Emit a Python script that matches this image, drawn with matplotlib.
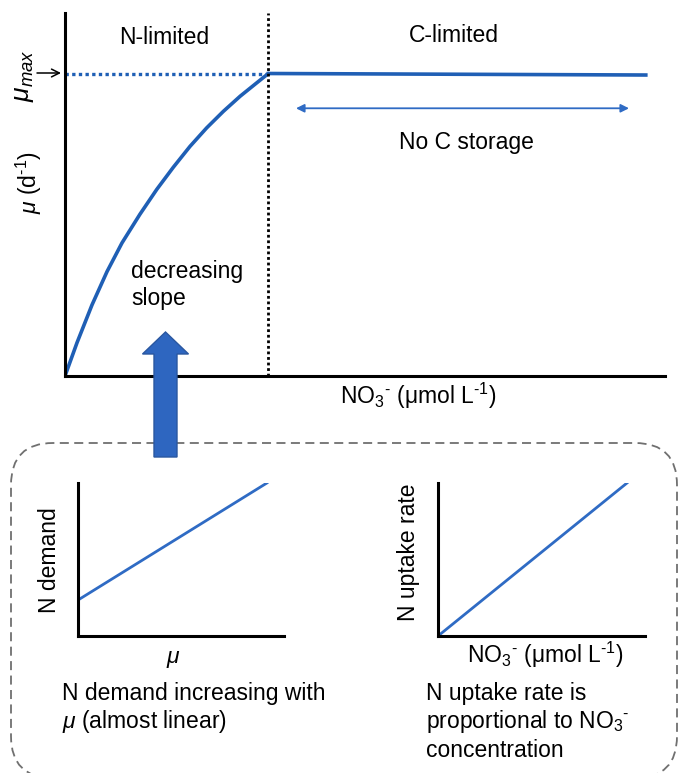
"""
Growth rate vs nitrate schematic (N-limited / C-limited), with two inset
sketches explaining the decreasing slope.
"""

import matplotlib.pyplot as plt
from matplotlib.patches import FancyBboxPatch, FancyArrow

W, H = 680, 773

# Main curve: growth rate mu against NO3- (arbitrary units, mu_max = 1)
no3_curve = [0.0, 0.2, 0.45, 0.7, 0.95, 1.25, 1.53, 1.805, 2.083, 2.36, 2.64, 2.92, 3.195, 3.39]
mu_curve = [0.0, 0.11, 0.235, 0.345, 0.44, 0.535, 0.617, 0.69, 0.759, 0.82, 0.875, 0.925, 0.969, 1.0]
no3_plateau = [3.39, 9.68]
mu_plateau = [1.0, 0.995]
no3_knee = 3.39
mu_max = 1.0
storage_span = [3.85, 9.4]
storage_level = 0.885

# Inset sketches
mu_inset = [0.0, 0.917]
n_demand = [0.235, 1.0]
no3_inset = [0.0, 0.913]
n_uptake = [0.0, 1.0]

BLUE = "#1f5fb5"
LINE_BLUE = "#2f6bc4"

plt.rcParams["font.family"] = ["Liberation Sans", "DejaVu Sans"]
plt.rcParams["mathtext.fontset"] = "custom"
plt.rcParams["mathtext.rm"] = "Liberation Sans"
plt.rcParams["mathtext.it"] = "Liberation Sans:italic"
FS = 16.5

NO3_LABEL = r"NO$_3$$^{\text{-}}$ (μmol L$^{\text{-1}}$)"


def px(x, y):
    """Pixel position (from top-left) to figure fraction."""
    return x / W, 1 - y / H


def axes_box(left, top, right, bottom):
    return [left / W, 1 - bottom / H, (right - left) / W, (bottom - top) / H]


def bare_axes(ax, lw=2.2):
    for side in ("top", "right"):
        ax.spines[side].set_visible(False)
    for side in ("left", "bottom"):
        ax.spines[side].set_linewidth(lw)
        ax.spines[side].set_color("black")
    ax.set_xticks([])
    ax.set_yticks([])
    ax.patch.set_alpha(0)


fig = plt.figure(figsize=(W / 100, H / 100), dpi=100)

# ---- main panel
ax = fig.add_axes(axes_box(65, 13, 665, 376))
bare_axes(ax)
ax.set_xlim(0, 10)
ax.set_ylim(0, 1.2)
ax.plot(no3_curve, mu_curve, color=BLUE, lw=2.6,
        solid_capstyle="round", solid_joinstyle="round")
ax.plot(no3_plateau, mu_plateau, color=BLUE, lw=2.6)
ax.plot([0, no3_knee], [mu_max, mu_max], color=BLUE, lw=2.4, ls=(0, (1, 1)))
ax.plot([no3_knee, no3_knee], [0, 1.2], color="black", lw=2.0, ls=(0, (1, 1)))
ax.annotate("", xy=(storage_span[0], storage_level), xytext=(storage_span[1], storage_level),
            arrowprops=dict(arrowstyle="<|-|>", color=LINE_BLUE, lw=1.3,
                            mutation_scale=12, shrinkA=0, shrinkB=0))

fig.text(*px(164.5, 44), "N-limited", ha="center", va="baseline", fontsize=FS)
fig.text(*px(454, 42), "C-limited", ha="center", va="baseline", fontsize=FS)
fig.text(*px(466, 149), "No C storage", ha="center", va="baseline", fontsize=FS)
fig.text(*px(131, 278), "decreasing", ha="left", va="baseline", fontsize=FS)
fig.text(*px(131, 305), "slope", ha="left", va="baseline", fontsize=FS)
fig.text(*px(418, 404), NO3_LABEL, ha="center", va="baseline", fontsize=FS)
fig.text(*px(29, 183), r"$\mu$ (d$^{\text{-1}}$)", ha="center", va="center",
         rotation=90, fontsize=FS)
fig.text(*px(24, 76), r"$\mu_{max}$", ha="center", va="center",
         rotation=90, fontsize=19)
fig.add_artist(plt.Annotation("", xy=px(61, 73), xytext=px(37, 73),
                              xycoords="figure fraction", textcoords="figure fraction",
                              arrowprops=dict(arrowstyle="->", color="black", lw=1.1,
                                              mutation_scale=14, shrinkA=0, shrinkB=0)))

# ---- dashed explanation box and block arrow
box = FancyBboxPatch((0.11, -0.05), 6.66, 3.35,
                     boxstyle="round,pad=0,rounding_size=0.42",
                     transform=fig.dpi_scale_trans, fill=False,
                     edgecolor="#707070", lw=1.3, ls=(0, (5, 3)), zorder=1)
fig.add_artist(box)
block = FancyArrow(1.655, (H - 457) / 100, 0, (457 - 332) / 100, width=0.23,
                   head_width=0.46, head_length=0.22, length_includes_head=True,
                   transform=fig.dpi_scale_trans, facecolor="#2e66c0",
                   edgecolor="#2a57a0", lw=1.0, zorder=5)
fig.add_artist(block)

# ---- inset: N demand vs mu
ax1 = fig.add_axes(axes_box(78, 483, 284, 636))
bare_axes(ax1)
ax1.set_xlim(0, 1)
ax1.set_ylim(0, 1)
ax1.plot(mu_inset, n_demand, color=LINE_BLUE, lw=2.0)
fig.text(*px(50, 560), "N demand", ha="center", va="center", rotation=90, fontsize=FS)
fig.text(*px(173, 663), r"$\mu$", ha="center", va="baseline", fontsize=FS)
fig.text(*px(62, 700), "N demand increasing with", ha="left", va="baseline", fontsize=FS)
fig.text(*px(62, 728), r"$\mu$ (almost linear)", ha="left", va="baseline", fontsize=FS)

# ---- inset: N uptake vs NO3-
ax2 = fig.add_axes(axes_box(438, 483, 645, 636))
bare_axes(ax2)
ax2.set_xlim(0, 1)
ax2.set_ylim(0, 1)
ax2.plot(no3_inset, n_uptake, color=LINE_BLUE, lw=2.0)
fig.text(*px(408, 552), "N uptake rate", ha="center", va="center", rotation=90, fontsize=FS)
fig.text(*px(545, 663), NO3_LABEL, ha="center", va="baseline", fontsize=FS)
fig.text(*px(426, 700), "N uptake rate is", ha="left", va="baseline", fontsize=FS)
fig.text(*px(426, 728), r"proportional to NO$_3$$^{\text{-}}$", ha="left",
         va="baseline", fontsize=FS)
fig.text(*px(426, 757), "concentration", ha="left", va="baseline", fontsize=FS)

fig.savefig("out.png", dpi=100)
print("saved out.png")
